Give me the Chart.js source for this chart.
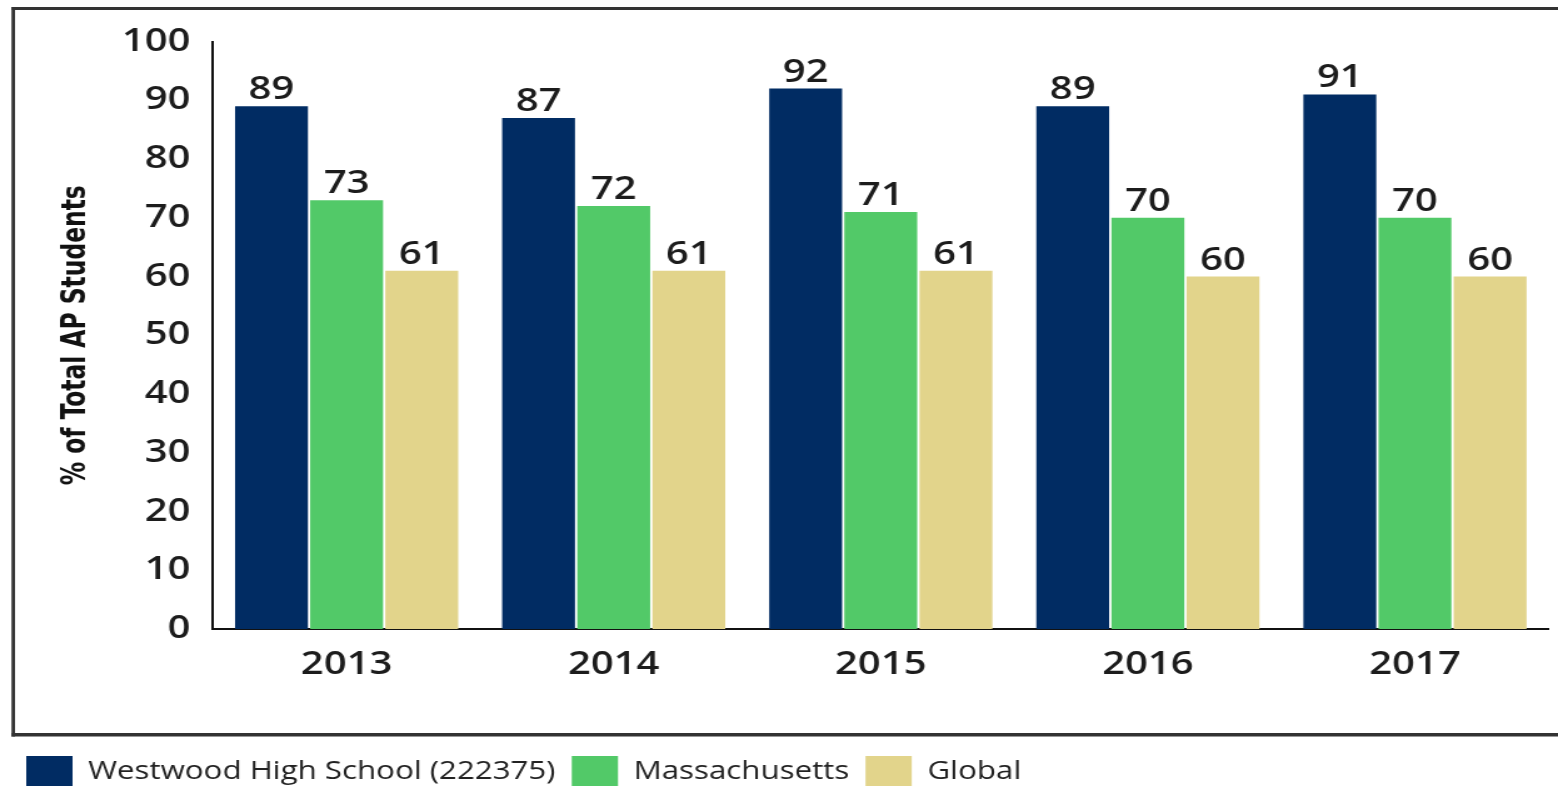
<!DOCTYPE html>
<html>
<head>
<meta charset="utf-8">
<script src="https://cdn.jsdelivr.net/npm/chart.js@4.4.0/dist/chart.umd.min.js"></script>
<style>
  html, body { margin: 0; padding: 0; background: #fff; overflow: hidden; }
</style>
</head>
<body>
<!-- the source image is stretched sideways, so the canvas is drawn narrower and widened by css -->
<canvas id="apChart" width="1246" height="786" style="display:block;width:1558px;height:786px"></canvas>
<script>
const years = ['2013', '2014', '2015', '2016', '2017'];
const westwood = [89, 87, 92, 89, 91];
const massachusetts = [73, 72, 71, 70, 70];
const global = [61, 61, 61, 60, 60];

const fontFamily = "'Open Sans', sans-serif";
const textColor = '#1c1c1c';

// numbers above each bar
const valueLabels = {
  id: 'valueLabels',
  afterDatasetsDraw(chart) {
    const ctx = chart.ctx;
    ctx.save();
    ctx.font = '600 32px ' + fontFamily;
    ctx.fillStyle = textColor;
    ctx.textAlign = 'center';
    ctx.textBaseline = 'alphabetic';
    chart.data.datasets.forEach((ds, i) => {
      chart.getDatasetMeta(i).data.forEach((bar, j) => {
        ctx.fillText(ds.data[j], bar.x, bar.y - 7);
      });
    });
    ctx.restore();
  }
};

// the box around the plot (right edge is cut off in the source)
const frame = {
  id: 'frame',
  afterDraw(chart) {
    const ctx = chart.ctx;
    ctx.save();
    ctx.fillStyle = '#333';
    ctx.fillRect(9.2, 7, 1300, 3);
    ctx.fillRect(9.2, 733, 1300, 3.5);
    ctx.fillRect(9.2, 7, 2.8, 729.5);
    ctx.restore();
  }
};

const data = {
  labels: years,
  datasets: [
    {
      label: 'Westwood High School (222375)',
      data: westwood,
      backgroundColor: '#012c63'
    },
    {
      label: 'Massachusetts',
      data: massachusetts,
      backgroundColor: '#52c968'
    },
    {
      label: 'Global',
      data: global,
      backgroundColor: '#e2d48b'
    }
  ]
};

const config = {
  type: 'bar',
  data: data,
  options: {
    responsive: false,
    devicePixelRatio: 1,
    animation: false,
    datasets: {
      bar: {
        barPercentage: 0.97,
        categoryPercentage: 0.844
      }
    },
    layout: {
      padding: { left: 8, right: 7.6, top: 41.5, bottom: -11 }
    },
    scales: {
      x: {
        grid: { display: false, drawTicks: false },
        border: { display: true, color: '#111', width: 2 },
        ticks: {
          color: textColor,
          padding: 17,
          font: { family: fontFamily, size: 32, weight: '600' }
        },
        afterFit(scale) { scale.height = 114; }
      },
      y: {
        min: 0,
        max: 100,
        grid: { display: false, drawTicks: false },
        border: { display: true, color: '#111', width: 2 },
        ticks: {
          stepSize: 10,
          color: textColor,
          padding: 18,
          font: { family: fontFamily, size: 32, weight: '600' }
        },
        title: {
          display: true,
          text: '% of Total AP Students',
          color: '#111',
          padding: { top: 38, bottom: 0 },
          font: { family: "'Liberation Sans Narrow', 'DejaVu Sans Condensed', sans-serif", size: 26, weight: 'bold' }
        },
        afterFit(scale) { scale.width = 162.4; }
      }
    },
    plugins: {
      legend: {
        position: 'bottom',
        align: 'start',
        labels: {
          boxWidth: 37,
          boxHeight: 31,
          padding: 13,
          color: '#222',
          font: { family: fontFamily, size: 25 }
        }
      },
      tooltip: { enabled: false }
    }
  },
  plugins: [valueLabels, frame]
};

const ctx = document.getElementById('apChart').getContext('2d');
const apChart = new Chart(ctx, config);
</script>
</body>
</html>
